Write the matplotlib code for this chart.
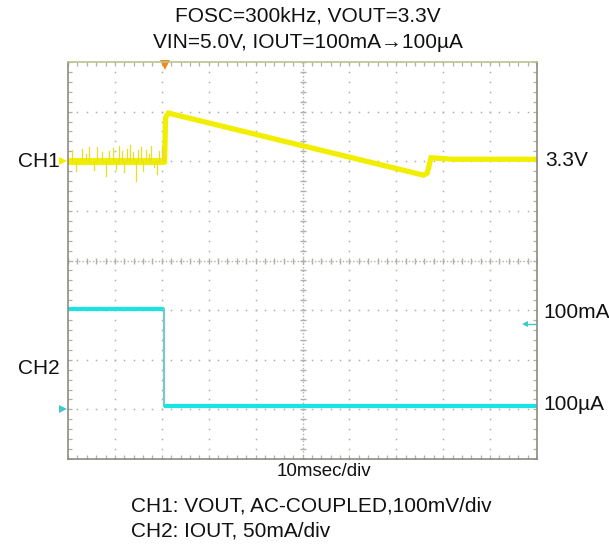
import matplotlib
matplotlib.use("Agg")
import matplotlib.pyplot as plt
import numpy as np

plt.rcParams['font.family'] = ['Liberation Sans', 'DejaVu Sans']

# ---- data (screen divisions: x 0..10, y 0..8) ----
ch1_t = [0.0, 2.06, 2.08, 2.14, 7.58, 7.66, 7.74, 8.2, 10.0]
ch1_v = [6.00, 6.00, 6.88, 6.97, 5.72, 5.76, 6.07, 6.04, 6.04]

# hand-read noise spikes on CH1 baseline (position, offset in div)
spike_t = [0.08, 0.18, 0.3, 0.38, 0.45, 0.55, 0.62, 0.72, 0.8, 0.88, 0.95,
           1.02, 1.08, 1.15, 1.2, 1.26, 1.32, 1.38, 1.44, 1.5, 1.55, 1.6,
           1.66, 1.72, 1.78, 1.84, 1.9, 1.95, 2.0, 2.04]
spike_d = [0.22, -0.2, 0.25, 0.15, 0.28, -0.18, 0.28, 0.18, -0.3, 0.2, 0.26,
           -0.15, 0.3, 0.2, -0.22, 0.25, 0.32, 0.18, -0.4, 0.22, 0.28, -0.2,
           0.22, 0.15, 0.3, -0.12, -0.25, 0.2, 0.3, 0.24]

ch2_t = [0.0, 2.05, 2.05, 10.0]
ch2_v = [3.03, 3.03, 1.06, 1.06]

title1 = "FOSC=300kHz, VOUT=3.3V"
title2 = "VIN=5.0V, IOUT=100mA\u2192100\u00b5A"
xlabel = "10msec/div"
note1 = "CH1: VOUT, AC-COUPLED,100mV/div"
note2 = "CH2: IOUT, 50mA/div"

W, H = 609, 546
fig = plt.figure(figsize=(W / 100, H / 100), dpi=100)
L, R, T, B = 68, 537, 62, 459
ax = fig.add_axes([L / W, 1 - B / H, (R - L) / W, (B - T) / H])
ax.set_xlim(0, 10)
ax.set_ylim(0, 8)
ax.set_xticks([])
ax.set_yticks([])
for s in ['left', 'bottom', 'right']:
    ax.spines[s].set_color('#8c8c84')
    ax.spines[s].set_linewidth(1.2)
ax.spines['top'].set_color('#b8c48c')
ax.spines['top'].set_linewidth(1.2)

gc = '#b0b0a8'
sub = np.arange(0, 10.01, 0.2)
suby = np.arange(0, 8.01, 0.2)
# grid dots
for k in range(1, 10):
    if k == 5:
        continue
    ax.plot(np.full_like(suby, k), suby, ls='none', marker='s', ms=1.1, color=gc, mew=0)
for k in range(1, 8):
    if k == 4:
        continue
    ax.plot(sub, np.full_like(sub, k), ls='none', marker='s', ms=1.1, color=gc, mew=0)
# center cross with ticks
ax.plot([0, 10], [4, 4], ls=(0, (1, 1.5)), lw=1.0, color=gc)
ax.plot([5, 5], [0, 8], ls=(0, (1, 1.5)), lw=1.0, color=gc)
ax.plot(sub, np.full_like(sub, 4), ls='none', marker='|', ms=5, mew=1.0, color=gc)
ax.plot(np.full_like(suby, 5), suby, ls='none', marker='_', ms=5, mew=1.0, color=gc)
# edge ticks
ax.plot(sub, np.full_like(sub, 0.04), ls='none', marker='|', ms=3, mew=0.9, color=gc)
ax.plot(sub, np.full_like(sub, 7.96), ls='none', marker='|', ms=3, mew=0.9, color=gc)
ax.plot(np.full_like(suby, 0.05), suby, ls='none', marker='_', ms=3, mew=0.9, color=gc)
ax.plot(np.full_like(suby, 9.95), suby, ls='none', marker='_', ms=3, mew=0.9, color=gc)

yel = '#f2ee00'
cy = '#18e4e4'
# CH1 trace
ax.plot(ch1_t, ch1_v, color=yel, lw=3.8, solid_capstyle='butt', solid_joinstyle='miter')
ax.plot([0, 2.06], [6.0, 6.0], color=yel, lw=5.0, solid_capstyle='butt')
for t, d in zip(spike_t, spike_d):
    ax.plot([t, t], [6.0, 6.0 + d], color='#e6e020', lw=0.9)
# CH2 trace
ax.plot(ch2_t[:2], ch2_v[:2], color=cy, lw=3.0, solid_capstyle='butt')
ax.plot(ch2_t[1:3], ch2_v[1:3], color='#78c8c8', lw=1.6)
ax.plot(ch2_t[2:], ch2_v[2:], color=cy, lw=3.0, solid_capstyle='butt')

# markers
ax.plot([2.07], [7.93], marker='v', ms=7, color='#f08a1e', mew=0, clip_on=False)
ax.plot([-0.1], [6.0], marker='>', ms=6, color=yel, mew=0, clip_on=False)
ax.plot([-0.1], [1.0], marker='>', ms=6, color='#40c8c8', mew=0, clip_on=False)
ax.plot([9.72, 9.95], [2.72, 2.72], color='#40c8c8', lw=1.0)
ax.plot([9.74], [2.72], marker='<', ms=4, color='#40c8c8', mew=0)

def px(x, y, s, ha='left', size=15):
    fig.text(x / W, 1 - y / H, s, ha=ha, va='center', fontsize=size, color='#111111')

px(308, 16, title1, ha='center', size=15)
px(308, 42, title2, ha='center', size=15)
px(60, 161, "CH1", ha='right')
px(60, 368, "CH2", ha='right')
px(545, 160, "3.3V")
px(543, 312, "100mA")
px(543, 405, "100\u00b5A")
px(324, 472, xlabel, ha='center', size=13.5)
px(131, 506, note1, size=15)
px(131, 531, note2, size=15)

fig.savefig('out.png', dpi=100)
